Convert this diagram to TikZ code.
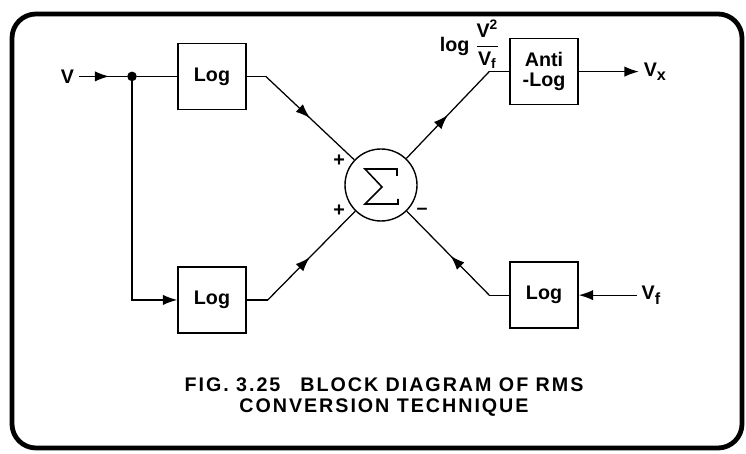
\documentclass[tikz,border=0pt]{standalone}
\usepackage{amsmath}
\usepackage{fontspec}
\setmainfont{Liberation Sans}
\usetikzlibrary{arrows.meta,positioning,decorations.markings}

% lowered index for V_x and V_f
\newcommand{\idx}[1]{\raisebox{-0.45ex}{\fontsize{11.5}{11.5}\selectfont #1}}

\begin{document}
\begin{tikzpicture}[
    auto,
    >={Latex[length=3.6mm,width=2.6mm]},
    font=\bfseries\fontsize{14}{14}\selectfont,
    block/.style={
		rectangle,
		draw=black,
		line width=1.1pt,
		text centered,
		minimum width=1.7cm,
		minimum height=1.65cm,
		fill=white
	},
	summer/.style={
		circle,
		draw=black,
		line width=1pt,
		minimum size=1.8cm
	},
	junction/.style={
		circle,
		fill=black,
		inner sep=0pt,
		minimum size=2.4mm
	},
	sign/.style={
		font=\bfseries\fontsize{14}{14}\selectfont,
		inner sep=0pt
	},
	wire/.style={
		line width=0.9pt
	},
	midarrow/.style={
		postaction={decorate},
		decoration={markings, mark=at position #1 with {\arrow{>}}}
	},
	caption/.style={
		align=center,
		inner sep=0pt,
		font=\bfseries\fontsize{14}{14.5}\selectfont\addfontfeatures{LetterSpace=10}
	}
  ]
  % frame round the whole figure
  \useasboundingbox (0,0) rectangle (18.65,11.35);
  \draw [line width=3.4pt, rounded corners=0.6cm] (0.3,0.15) rectangle (18.55,11.0);

  % We start by placing the blocks
  \node [summer] (sum) at (9.525,6.725) {};
  \node [block] (log1) at (5.3,9.44) {Log};
  \node [block, below=3.9cm of log1] (log2) {Log};
  \node [block, align=center] (antilog) at (13.6,9.56) {Anti\\-Log};
  \node [block, below=3.9cm of antilog] (log3) {Log};

  % the summing sign, drawn by hand
  \draw [line width=1.1pt, shift={(sum.center)}]
    (0.4,0.225) -- (0.4,0.4) -- (-0.4,0.4) -- (0.025,-0.05)
    -- (-0.4,-0.475) -- (0.425,-0.475) -- (0.425,-0.35);
  \node [sign] at ([shift={(-1.05,0.6)}]sum.center) {+};
  \node [sign] at ([shift={(-1.05,-0.65)}]sum.center) {+};
  \node [sign] at ([shift={(1.025,-0.65)}]sum.center) {--};

  % inputs, output and the branch point
  \node [junction] (dot) at (3.3,9.44) {};
  \node [left=1.2cm of dot] (vin) {V};
  \node [right=1.5cm of antilog] (vx) {V\idx{x}};
  \node [right=1.45cm of log3] (vf) {V\idx{f}};

  % bends before and after the diagonals
  \coordinate [right=0.475cm of log1.east] (b1);
  \coordinate [right=0.525cm of log2.east] (b2);
  \coordinate [left=0.5cm of antilog.west] (b3);
  \coordinate [left=0.5cm of log3.west] (b4);

  \node [anchor=south east, inner sep=0pt] (lbl) at ([shift={(0.27,0.07)}]b3)
    {log $\dfrac{\text{V}^{\text{2}}}{\text{V}_{\text{f}}}$};

  \draw [wire, midarrow=0.63] (vin.east) -- (dot);
  \draw [wire] (dot) -- (log1);
  \draw [wire, ->] (dot) |- (log2);

  \draw [wire] (log1) -- (b1);
  \draw [wire, midarrow=0.5] (b1) -- (sum);
  \draw [wire] (log2) -- (b2);
  \draw [wire, midarrow=0.48] (b2) -- (sum);
  \draw [wire, midarrow=0.5] (sum) -- (b3);
  \draw [wire] (b3) -- (antilog);
  \draw [wire] (log3) -- (b4);
  \draw [wire, midarrow=0.47] (b4) -- (sum);
  \draw [wire, ->] (antilog.east) -- (vx.west);
  \draw [wire, ->] (vf.west) -- (log3.east);

  % caption
  \node [caption] (cap) at (9.6,1.42)
    {FIG. 3.25\hspace{0.5cm}BLOCK DIAGRAM OF RMS\\CONVERSION TECHNIQUE};
\end{tikzpicture}
\end{document}
